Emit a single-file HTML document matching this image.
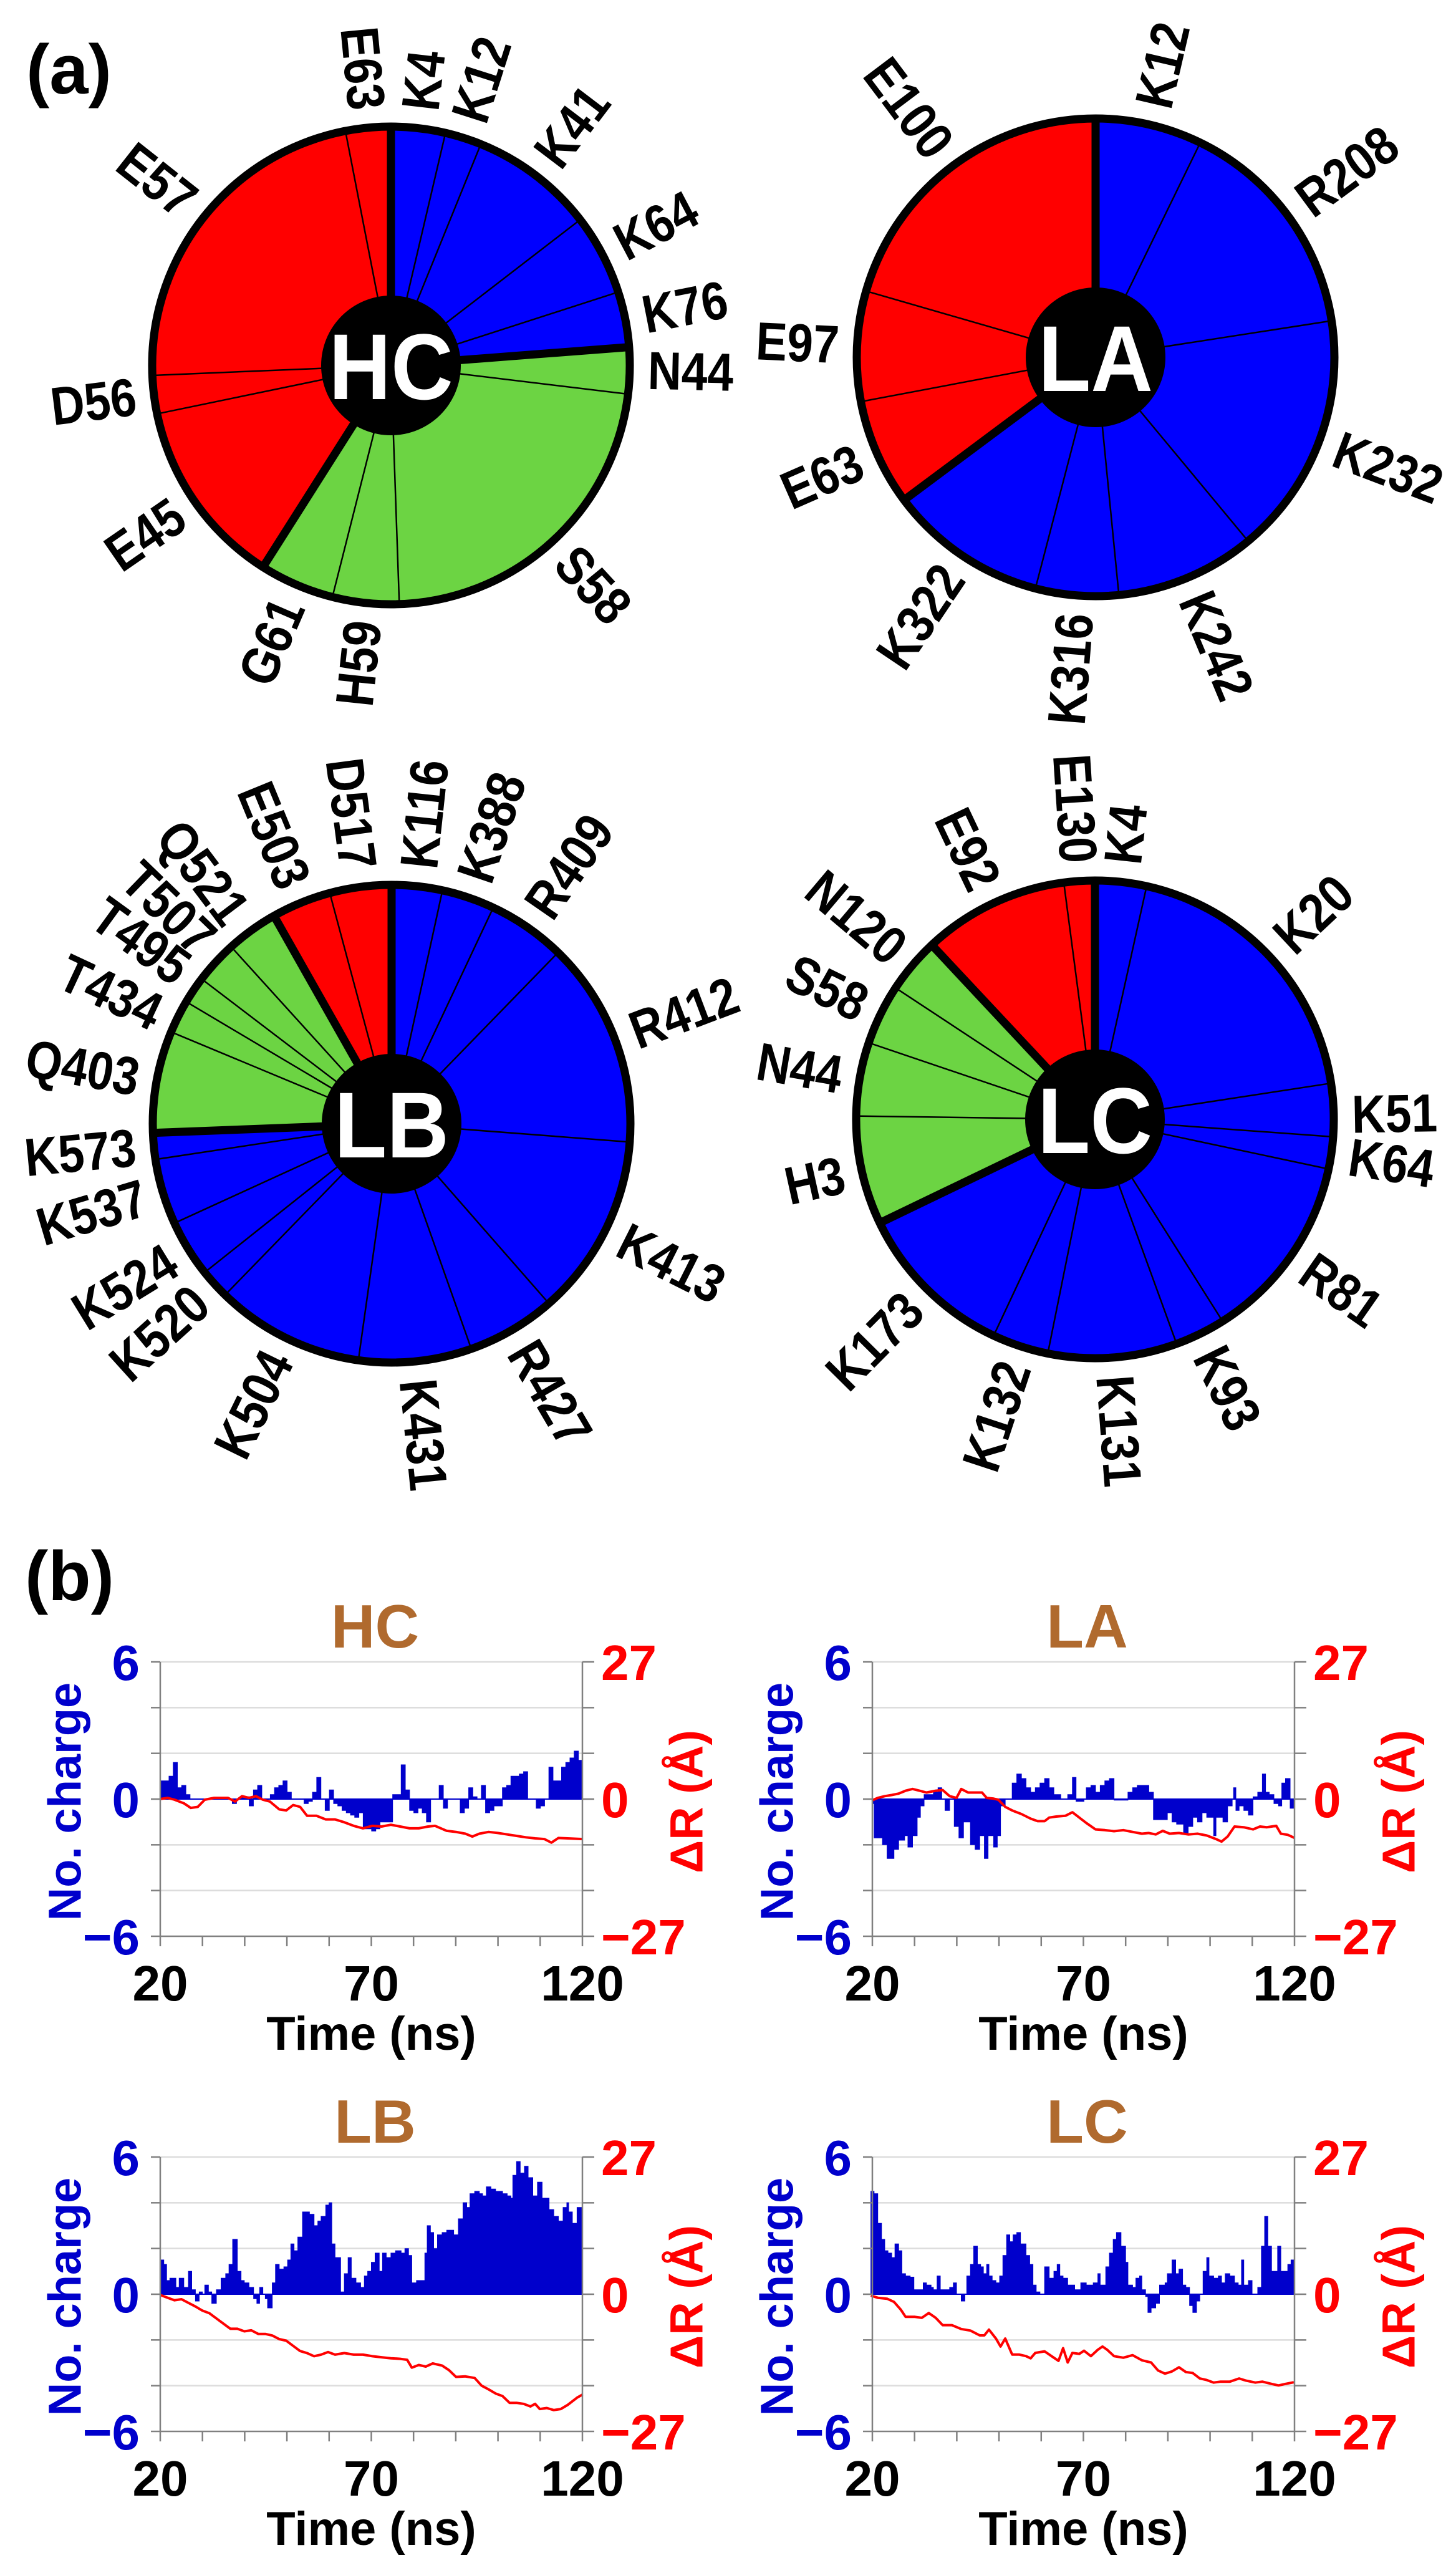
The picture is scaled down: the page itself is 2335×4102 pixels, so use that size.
<!DOCTYPE html>
<html><head><meta charset="utf-8">
<style>
html,body{margin:0;padding:0;background:#fff;}
svg{display:block;}
text{font-family:"Liberation Sans",sans-serif;font-weight:bold;}
</style></head>
<body>
<svg id="s" xmlns="http://www.w3.org/2000/svg" width="2335" height="4102" viewBox="0 0 2335 4102">
<rect width="2335" height="4102" fill="#fff"/>
<text x="42" y="150" font-size="112">(a)</text>
<text x="40" y="2566" font-size="112">(b)</text>
</svg>
<script>
var S=document.getElementById('s'),NS='http://www.w3.org/2000/svg';
function el(t,a,txt){var e=document.createElementNS(NS,t);for(var k in a)e.setAttribute(k,a[k]);if(txt!==undefined)e.textContent=txt;S.appendChild(e);return e;}
var R='#FF0000',B='#0000FF',G='#6CD443';
function pie(cx,cy,bounds,cols,labels,over,name){
  var r=383,rad=Math.PI/180;
  function p(a,rr){return [cx+rr*Math.sin(a*rad),cy-rr*Math.cos(a*rad)];}
  for(var i=0;i<cols.length;i++){
    var a0=bounds[i],a1=bounds[i+1],P0=p(a0,r),P1=p(a1,r),lg=(a1-a0)>180?1:0;
    el('path',{d:'M'+cx+','+cy+'L'+P0[0]+','+P0[1]+'A'+r+','+r+' 0 '+lg+' 1 '+P1[0]+','+P1[1]+'Z',fill:cols[i],stroke:'none'});
  }
  for(var i=0;i<cols.length;i++){
    var a=bounds[i],prev=cols[(i-1+cols.length)%cols.length],thick=prev!==cols[i];
    var P=p(a,r);
    el('line',{x1:cx,y1:cy,x2:P[0],y2:P[1],stroke:'#000','stroke-width':thick?13:2.5});
  }
  el('circle',{cx:cx,cy:cy,r:r,fill:'none',stroke:'#000','stroke-width':13});
  el('circle',{cx:cx,cy:cy,r:112,fill:'#000'});
  el('text',{x:cx,y:cy+54,'font-size':150,fill:'#fff','text-anchor':'middle',transform:'translate('+cx+' 0) scale(0.92 1) translate('+(-cx)+' 0)'},name);
  for(var i=0;i<labels.length;i++){
    var a=(over&&over[i]!=null)?over[i]:(bounds[i]+bounds[i+1])/2;
    var P=p(a,412),right=a<180;
    var rot=right?a-90:a+90;
    el('text',{x:0,y:0,'font-size':86,'text-anchor':right?'start':'end','dominant-baseline':'central',transform:'translate('+P[0].toFixed(1)+' '+P[1].toFixed(1)+') rotate('+rot+') scale(0.87 1)'},labels[i]);
  }
}
pie(627,586,[0,13.2,22.1,52.4,72.1,85.6,96.9,178,194.2,212.4,258.3,267.6,349,360],
 [B,B,B,B,B,G,G,G,G,R,R,R,R],['K4','K12','K41','K64','K76','N44','S58','H59','G61','E45','D56','E57','E63'],null,'HC');
pie(1757,573,[0,26,81.2,140.3,174.4,194.6,233.3,259.3,286.1,360],
 [B,B,B,B,B,B,R,R,R],['K12','R208','K232','K242','K316','K322','E63','E97','E100'],null,'LA');
pie(628,1802,[0,12.3,25.2,44.2,94.4,138.8,160.5,188,224.2,231.5,245.4,261.4,267.8,292.6,300.7,307.3,317.8,330.5,345,360],
 [B,B,B,B,B,B,B,B,B,B,B,B,G,G,G,G,G,R,R],
 ['K116','K388','R409','R412','K413','R427','K431','K504','K520','K524','K537','K573','Q403','T434','T495','T507','Q521','E503','D517'],
 [null,null,null,null,null,null,null,null,null,null,null,null,null,295,306,314,323,null,null],'LB');
pie(1756,1795,[0,12.5,81.3,94.2,102,147.7,160,191.4,205.1,244.3,270.8,288.7,303.4,316.9,352.5,360],
 [B,B,B,B,B,B,B,B,B,G,G,G,G,R,R],
 ['K4','K20','K51','K64','R81','K93','K131','K132','K173','H3','N44','S58','N120','E92','E130'],
 [null,null,89,98.5,null,null,null,null,null,null,null,null,null,null,null],'LC');

function plot(x0,top,title,segs,crop,line){
  var w=677,h=440,zero=top+220,u=220/6,bot=top+h,x1=x0+w;
  [-4,-2,2,4,6].forEach(function(v){var y=zero-v*u;el('line',{x1:x0,y1:y,x2:x1,y2:y,stroke:'#DCDCDC','stroke-width':2.5});});
  var d='';
  function cx(zx){return crop[0]+zx/crop[2];}
  for(var i=0;i<segs.length;i++){
    var xa=cx(segs[i][0]),xb=i+1<segs.length?cx(segs[i+1][0]):x1,v=segs[i][1];
    if(v==0)continue;var y=zero-v*u;
    d+='M'+xa.toFixed(1)+','+zero+'V'+y.toFixed(1)+'H'+xb.toFixed(1)+'V'+zero+'Z';
  }
  el('path',{d:d,fill:'#0000CC',stroke:'#0000CC','stroke-width':1});
  el('line',{x1:x0,y1:zero,x2:x1,y2:zero,stroke:'#0000CC','stroke-width':2});
  var pts=line.map(function(q){return cx(q[0]).toFixed(1)+','+(crop[1]+q[1]/crop[3]).toFixed(1);}).join(' ');
  el('polyline',{points:pts,fill:'none',stroke:'#FF0000','stroke-width':4,'stroke-linejoin':'round'});
  var ax={stroke:'#808080','stroke-width':2.5};
  el('line',Object.assign({x1:x0,y1:top,x2:x0,y2:bot},ax));
  el('line',Object.assign({x1:x1,y1:top,x2:x1,y2:bot},ax));
  el('line',Object.assign({x1:x0,y1:bot,x2:x1,y2:bot},ax));
  for(var v=-6;v<=6;v+=2){var y=zero-v*u;
    el('line',Object.assign({x1:x0-15,y1:y,x2:x0,y2:y},ax));
    el('line',Object.assign({x1:x1,y1:y,x2:x1+19,y2:y},ax));}
  for(var k=0;k<=10;k++){var x=x0+k*w/10;el('line',Object.assign({x1:x,y1:bot,x2:x,y2:bot+16},ax));}
  var fs=80;
  [['6',top],['0',zero],['\u22126',bot]].forEach(function(t){el('text',{x:x0-33,y:t[1]+29,'font-size':fs,fill:'#0000CC','text-anchor':'end'},t[0]);});
  [['27',top],['0',zero],['\u221227',bot]].forEach(function(t){el('text',{x:x1+30,y:t[1]+29,'font-size':fs,fill:'#FF0000','text-anchor':'start'},t[0]);});
  [['20',x0],['70',x0+w/2],['120',x1]].forEach(function(t){el('text',{x:t[1],y:bot+103,'font-size':fs,fill:'#000','text-anchor':'middle'},t[0]);});
  el('text',{x:x0+w/2,y:bot+182,'font-size':76,fill:'#000','text-anchor':'middle'},'Time (ns)');
  var lx=x0-153,ly=zero+4;
  el('text',{x:lx,y:ly,'font-size':74,fill:'#0000CC','text-anchor':'middle','dominant-baseline':'central',transform:'rotate(-90 '+lx+' '+ly+')'},'No. charge');
  var rx=x1+167;
  el('text',{x:rx,y:ly,'font-size':74,fill:'#FF0000','text-anchor':'middle','dominant-baseline':'central',transform:'rotate(-90 '+rx+' '+ly+')'},'\u0394R (\u00C5)');
  el('text',{x:x0+w/2+6,y:top-23,'font-size':98,fill:'#B06A2E','text-anchor':'middle'},title);
}
var hcv=[0.8,0.8,1.0,1.6,0.5,0.6,0.2,0,0,0,0,0,0,0,0,0,0,-0.2,0,0.1,0.1,-0.3,0.4,0.6,0,0,0.2,0.5,0.6,0.8,0.3,0,0,0,-0.2,-0.1,0.3,0.95,0,-0.5,0.4,-0.2,-0.3,-0.5,-0.6,-0.7,-0.8,-0.6,-1.3,-1.3,-1.4,-1.3,-1.0,-1.0,-1.0,0.2,0.2,1.5,0.4,-0.5,-0.6,-0.4,-0.6,-1.0,0,0,0.6,-0.4,0,0,0,-0.6,-0.4,0.5,0.1,0,0.6,-0.6,-0.5,-0.3,-0.3,0.5,0.6,1.0,1.0,1.1,1.2,0,0,-0.4,-0.3,0,1.4,0.8,0.8,1.4,1.6,1.8,2.1,1.7];
var hcs=hcv.map(function(v,i){return [345+i*9.07,v];});
plot(257,2665,'HC',hcs,[0,2200,1.34,1.742],
[[345,1193],[360,1190],[375,1195],[395,1205],[410,1218],[425,1215],[440,1195],[460,1190],[490,1190],[505,1200],[520,1185],[535,1190],[550,1185],[565,1195],[580,1200],[600,1222],[615,1225],[630,1210],[645,1215],[660,1240],[680,1240],[700,1250],[720,1250],[740,1258],[760,1268],[780,1275],[800,1268],[820,1270],[840,1265],[860,1270],[880,1275],[900,1275],[920,1270],[935,1268],[960,1282],[980,1285],[1000,1290],[1015,1298],[1030,1290],[1050,1285],[1070,1288],[1090,1292],[1110,1296],[1130,1300],[1150,1303],[1170,1305],[1185,1315],[1200,1302],[1220,1303],[1252,1305]]);
plot(1399,2665,'LA',
[[308,-0.2],[312,-1.7],[330,-2.0],[340,-2.6],[355,-2.2],[365,-1.8],[378,-1.6],[385,-2.1],[395,-1.6],[405,-0.8],[412,-0.3],[420,0.2],[440,0.3],[450,0.5],[458,0],[465,-0.5],[475,0],[485,-1.2],[495,-1.7],[505,-1.0],[520,-2.0],[530,-2.2],[540,-1.6],[550,-2.6],[558,-1.6],[570,-2.1],[578,-1.6],[585,-0.3],[595,0],[610,0.7],[620,1.1],[630,0.9],[640,0.5],[650,0.3],[660,0.5],[670,0.7],[680,0.9],[690,0.5],[700,0.2],[715,0],[730,0.2],[740,0.95],[748,-0.1],[765,0],[770,0.5],[780,0.6],[790,0.3],[800,0.6],[810,0.8],[820,0.9],[830,-0.05],[860,0.3],[870,0.5],[880,0.6],[905,0.3],[915,-0.9],[945,-0.6],[955,-1.0],[965,-1.1],[980,-1.5],[990,-1.2],[1000,-0.8],[1010,-1.0],[1020,-0.6],[1030,-0.8],[1045,-1.6],[1050,-0.8],[1065,-1.0],[1075,-0.3],[1085,0],[1088,0.5],[1093,-0.5],[1100,-0.3],[1110,-0.5],[1120,-0.7],[1130,0.1],[1140,0.3],[1150,1.1],[1157,0.3],[1165,0.2],[1175,-0.2],[1185,-0.3],[1192,0.7],[1200,0.9],[1210,-0.4]],
[1170,2200,1.346,1.742],
[[308,1197],[320,1190],[335,1185],[350,1182],[365,1178],[380,1170],[395,1165],[410,1170],[425,1175],[445,1170],[460,1168],[475,1185],[490,1190],[500,1165],[515,1175],[530,1175],[545,1175],[555,1190],[570,1192],[580,1195],[595,1215],[610,1225],[630,1235],[650,1248],[665,1255],[680,1255],[690,1245],[705,1242],[725,1240],[740,1230],[755,1245],[770,1260],[790,1278],[810,1280],[830,1283],[850,1280],[870,1285],[890,1290],[905,1288],[920,1292],[935,1282],[950,1290],[970,1288],[990,1292],[1010,1290],[1030,1295],[1050,1305],[1062,1312],[1075,1298],[1090,1270],[1110,1272],[1130,1278],[1145,1270],[1160,1272],[1180,1268],[1190,1290],[1205,1293],[1220,1302]]);
plot(257,3459,'LB',
[[345,1.5],[352,1.3],[358,0.6],[365,0.7],[378,0.3],[385,0.7],[395,0.3],[405,1.0],[412,0.2],[420,-0.3],[428,0.1],[435,0],[440,0.4],[448,0.1],[455,-0.4],[465,0.2],[475,0.7],[485,0.9],[492,1.3],[500,2.4],[510,1.0],[518,0.6],[525,0.5],[535,0.3],[545,-0.2],[552,-0.4],[558,0.3],[565,0],[570,-0.2],[575,-0.6],[585,0.5],[592,1.3],[600,1.1],[610,1.2],[618,1.5],[625,2.2],[632,1.9],[640,2.5],[650,3.6],[665,3.5],[675,3.0],[683,3.2],[690,3.4],[700,3.9],[707,4.0],[713,2.2],[720,1.6],[732,0.1],[740,0.9],[748,1.6],[755,0.7],[765,0.5],[775,0.3],[783,0.8],[790,1.0],[798,1.4],[806,1.8],[815,1.0],[822,1.8],[830,1.6],[840,1.8],[850,1.9],[862,1.8],[870,2.0],[878,1.7],[885,0.5],[895,0.6],[913,1.8],[918,3.0],[925,2.7],[932,2.0],[940,2.6],[950,2.7],[960,2.8],[975,2.6],[985,3.3],[995,4.0],[1003,3.8],[1010,4.4],[1020,4.5],[1030,4.4],[1037,4.3],[1045,4.7],[1055,4.6],[1065,4.5],[1080,4.4],[1090,4.3],[1098,4.2],[1102,5.2],[1110,5.8],[1118,5.3],[1127,5.6],[1135,5.1],[1145,4.3],[1155,4.9],[1165,4.2],[1180,3.7],[1190,3.4],[1200,3.2],[1210,3.8],[1218,4.0],[1222,3.6],[1230,3.1],[1240,3.8]],
[0,2800,1.34,1.204],
[[345,1060],[360,1065],[375,1070],[390,1068],[405,1075],[420,1082],[435,1090],[450,1095],[465,1105],[480,1115],[495,1125],[510,1125],[525,1130],[540,1128],[555,1135],[570,1135],[585,1138],[600,1145],[615,1148],[630,1158],[645,1168],[660,1172],[675,1178],[690,1175],[705,1170],[720,1175],[740,1172],[760,1175],[780,1175],[800,1178],[820,1180],[840,1182],[860,1183],[875,1185],[885,1200],[900,1195],[915,1198],[930,1192],[950,1196],[965,1205],[980,1218],[1000,1217],[1020,1220],[1035,1235],[1050,1242],[1065,1250],[1080,1255],[1095,1268],[1110,1268],[1125,1270],[1140,1275],[1150,1270],[1160,1280],[1175,1278],[1190,1282],[1205,1280],[1220,1272],[1240,1258],[1252,1252]]);
plot(1399,3459,'LC',
[[305,4.5],[312,4.4],[320,3.1],[328,2.4],[335,1.9],[342,1.8],[350,1.6],[357,2.2],[365,1.9],[372,0.9],[380,0.8],[390,0.75],[398,0.2],[418,0.5],[425,0.4],[435,0.3],[440,0.2],[448,0.8],[455,0.2],[475,0.3],[483,0.5],[490,0],[500,-0.3],[508,0],[512,0.8],[520,1.3],[527,2.1],[535,1.3],[542,1.2],[548,0.9],[555,1.3],[560,0.8],[567,0.6],[575,0.5],[583,0.8],[590,1.7],[598,2.6],[605,2.3],[612,2.6],[620,2.7],[628,2.2],[640,1.7],[648,1.3],[655,0.4],[662,0.1],[670,0],[680,1.2],[690,0.7],[700,1.0],[707,1.3],[713,0.8],[720,0.7],[730,0.4],[745,0.2],[758,0.5],[770,0.4],[785,0.5],[795,0.9],[800,0.4],[812,1.2],[820,1.8],[828,2.4],[835,2.7],[845,2.1],[855,1.4],[860,0.4],[870,0.3],[877,0.7],[885,0.8],[890,0.2],[898,-0.1],[903,-0.8],[910,-0.6],[920,-0.4],[928,0.4],[940,0.5],[945,0.9],[955,1.5],[963,0.9],[970,1.1],[978,0.4],[985,0.3],[993,-0.5],[1000,-0.8],[1008,-0.3],[1015,0],[1022,1.0],[1030,1.6],[1035,0.8],[1045,0.7],[1055,0.8],[1062,0.5],[1070,0.9],[1080,0.8],[1090,0.5],[1098,0.4],[1105,1.5],[1110,0.4],[1120,0.6],[1128,0],[1140,0.3],[1148,2.1],[1155,3.4],[1162,2.1],[1170,1.0],[1183,2.1],[1190,1.0],[1205,1.3],[1212,1.5]],
[1170,3300,1.346,1.955],
[[305,745],[320,752],[340,755],[355,765],[370,790],[380,812],[400,812],[415,815],[430,800],[445,815],[460,838],[480,838],[500,850],[520,855],[540,870],[550,870],[560,852],[575,880],[585,905],[595,880],[610,930],[625,930],[640,935],[650,942],[660,925],[680,920],[700,940],[710,950],[720,910],[730,955],[740,925],[755,928],[765,918],[780,935],[795,915],[805,905],[815,915],[830,935],[850,940],[870,932],[890,948],[910,955],[925,980],[940,990],[955,983],[970,970],[985,985],[1000,988],[1015,1005],[1030,1010],[1045,1018],[1060,1015],[1080,1015],[1100,1005],[1115,1012],[1135,1018],[1150,1015],[1170,1022],[1185,1027],[1200,1022],[1218,1017]]);
</script>
</body></html>
